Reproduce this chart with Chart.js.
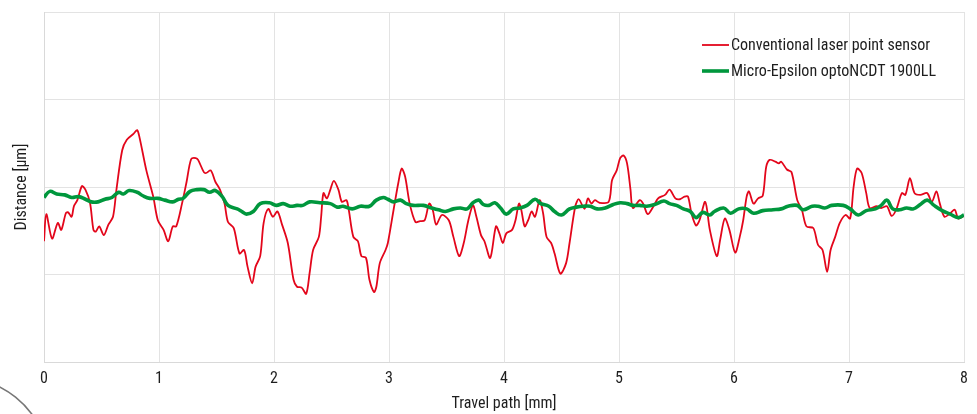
<!DOCTYPE html>
<html>
<head>
<meta charset="utf-8">
<script src="https://cdn.jsdelivr.net/npm/chart.js@4/dist/chart.umd.min.js"></script>
<style>
html,body{margin:0;padding:0;background:#fff;}
#wrap{position:relative;width:977px;height:414px;}
</style>
</head>
<body>
<div id="wrap"><canvas id="c" width="977" height="414"></canvas></div>
<script>
// Travel path [mm] and distance [µm]
const redX = [0.00,0.02,0.07,0.12,0.15,0.19,0.21,0.24,0.26,0.29,0.33,0.36,0.40,0.43,0.45,0.48,0.52,0.56,0.60,0.63,0.68,0.72,0.78,0.81,0.83,0.89,0.95,0.99,1.04,1.08,1.12,1.15,1.20,1.24,1.28,1.32,1.34,1.39,1.41,1.45,1.49,1.53,1.57,1.60,1.65,1.70,1.74,1.77,1.81,1.84,1.88,1.91,1.95,1.99,2.03,2.07,2.12,2.17,2.20,2.24,2.28,2.31,2.34,2.39,2.41,2.43,2.46,2.49,2.52,2.56,2.59,2.63,2.65,2.69,2.73,2.76,2.80,2.83,2.87,2.89,2.92,2.97,2.99,3.04,3.08,3.11,3.14,3.18,3.23,3.27,3.31,3.35,3.38,3.41,3.46,3.52,3.56,3.61,3.65,3.69,3.73,3.76,3.80,3.83,3.88,3.93,3.96,3.99,4.02,4.07,4.10,4.13,4.15,4.18,4.21,4.24,4.27,4.31,4.34,4.37,4.41,4.44,4.49,4.54,4.57,4.62,4.65,4.70,4.73,4.76,4.79,4.83,4.91,4.94,4.98,5.01,5.04,5.07,5.10,5.12,5.18,5.21,5.25,5.30,5.34,5.40,5.44,5.49,5.53,5.57,5.60,5.63,5.67,5.70,5.75,5.79,5.85,5.88,5.92,5.96,6.01,6.05,6.08,6.11,6.13,6.17,6.21,6.25,6.28,6.31,6.36,6.39,6.41,6.46,6.50,6.55,6.59,6.63,6.69,6.73,6.77,6.81,6.84,6.88,6.92,6.97,7.01,7.04,7.07,7.11,7.15,7.18,7.24,7.28,7.33,7.37,7.41,7.46,7.49,7.53,7.57,7.62,7.68,7.72,7.76,7.79,7.83,7.88,7.92,7.95,8.00];
const redY = [-6.2,-3.1,-5.9,-4.1,-4.9,-3.0,-2.9,-3.4,-2.2,-1.5,0.1,-0.3,-1.8,-4.9,-5.1,-4.5,-5.5,-4.3,-3.4,-0.3,4.2,5.4,6.1,6.5,5.7,1.9,-1.1,-3.8,-4.9,-6.2,-4.5,-4.5,-1.9,0.6,3.2,3.3,3.1,1.7,1.6,1.9,0.6,-0.3,-1.9,-4.0,-4.7,-7.6,-7.2,-9.1,-11.0,-9.1,-7.9,-4.1,-2.5,-3.4,-2.8,-4.3,-6.4,-10.6,-11.4,-11.5,-12.2,-9.8,-7.2,-5.7,-3.4,-0.7,-1.3,-0.3,0.7,-0.3,-1.7,-1.5,-2.6,-5.7,-6.2,-7.9,-8.1,-10.6,-12.0,-11.4,-8.7,-7.2,-6.4,-2.6,0.4,2.1,1.2,-1.9,-4.0,-3.9,-3.8,-1.9,-2.6,-4.3,-3.2,-3.8,-5.7,-7.9,-6.4,-3.8,-2.1,-3.4,-5.5,-6.2,-8.1,-4.5,-5.3,-6.4,-5.3,-4.9,-3.8,-1.9,-2.6,-4.5,-3.8,-2.8,-3.4,-1.5,-3.0,-5.7,-6.4,-7.6,-9.9,-8.7,-6.4,-2.2,-1.4,-2.5,-1.3,-1.9,-1.5,-1.8,-1.7,0.8,1.9,3.3,3.6,2.7,-0.3,-2.4,-1.5,-1.9,-3.1,-2.2,-1.3,-0.9,-0.3,-1.3,-1.4,-1.1,-1.1,-3.0,-4.4,-3.8,-1.7,-4.9,-7.9,-6.0,-3.6,-4.9,-7.5,-5.7,-3.8,-1.1,-0.5,-1.9,-1.3,-1.0,2.3,3.1,2.9,2.7,2.9,2.0,1.7,-1.5,-2.6,-4.5,-4.7,-6.6,-7.2,-9.7,-7.2,-5.7,-4.1,-3.2,-3.6,0.0,2.1,1.6,-0.7,-2.4,-2.2,-2.4,-2.2,-3.3,-2.6,-0.7,-0.9,1.0,-0.7,-0.9,-0.7,-1.7,-0.5,-1.9,-3.4,-3.0,-2.6,-3.6,-3.3];
const greenX = [0.00,0.05,0.11,0.18,0.24,0.30,0.36,0.41,0.47,0.53,0.59,0.65,0.69,0.74,0.81,0.86,0.92,0.99,1.05,1.12,1.17,1.21,1.27,1.33,1.39,1.44,1.49,1.55,1.60,1.68,1.72,1.76,1.82,1.88,1.96,2.02,2.08,2.14,2.20,2.25,2.31,2.40,2.49,2.55,2.60,2.68,2.75,2.83,2.89,2.95,2.99,3.04,3.10,3.15,3.21,3.30,3.37,3.43,3.49,3.56,3.62,3.68,3.73,3.78,3.82,3.87,3.92,3.97,4.02,4.08,4.14,4.20,4.27,4.32,4.39,4.44,4.50,4.57,4.63,4.69,4.75,4.81,4.88,4.95,5.01,5.07,5.12,5.18,5.24,5.31,5.39,5.44,5.50,5.56,5.62,5.67,5.73,5.79,5.83,5.91,5.97,6.04,6.11,6.17,6.25,6.34,6.41,6.47,6.55,6.60,6.68,6.73,6.79,6.85,6.95,7.01,7.08,7.15,7.23,7.28,7.33,7.38,7.44,7.50,7.56,7.62,7.68,7.74,7.81,7.88,7.95,8.00];
const greenY = [-1.2,-0.5,-0.8,-0.9,-1.2,-1.1,-1.4,-1.7,-1.7,-1.4,-1.2,-0.6,-0.8,-0.4,-0.6,-1.0,-1.3,-1.3,-1.5,-1.7,-1.4,-1.3,-0.5,-0.3,-0.3,-0.6,-0.4,-1.1,-2.1,-2.5,-2.8,-3.1,-2.8,-1.9,-1.8,-2.1,-1.9,-2.2,-2.1,-2.1,-1.7,-1.8,-1.9,-2.3,-2.2,-2.5,-2.2,-2.2,-1.5,-1.2,-1.4,-1.7,-1.5,-1.9,-2.1,-2.1,-2.4,-2.6,-2.8,-2.5,-2.4,-2.5,-1.8,-1.5,-2.0,-2.1,-1.8,-2.4,-3.1,-2.5,-2.4,-2.1,-1.4,-1.9,-2.2,-2.8,-3.2,-2.5,-2.3,-2.2,-2.2,-2.5,-2.4,-2.0,-1.8,-1.9,-2.1,-2.1,-2.2,-2.0,-1.6,-1.9,-2.1,-2.5,-2.8,-3.5,-2.9,-3.2,-2.8,-2.4,-3.0,-2.5,-2.5,-3.0,-2.7,-2.6,-2.5,-2.2,-2.1,-2.6,-2.2,-2.2,-2.4,-2.1,-2.1,-2.5,-3.2,-2.7,-2.5,-2.1,-1.5,-2.5,-2.6,-2.4,-2.5,-2.0,-1.5,-2.1,-2.7,-3.1,-3.5,-3.2];
const xTicks = [0,1,2,3,4,5,6,7,8];
const seriesNames = ['Conventional laser point sensor', 'Micro-Epsilon optoNCDT 1900LL'];

const FONT = "'Liberation Sans Narrow', 'Roboto Condensed', 'Arial Narrow', Roboto, sans-serif";
const TEXT = '#1e1e1e';
const RED = '#e3061b';
const GREEN = '#00973d';

const toPts = (xs, ys) => xs.map((x, i) => ({x: x, y: ys[i]}));

const legendAndDeco = {
  id: 'legendAndDeco',
  afterDraw(chart) {
    const ctx = chart.ctx;
    ctx.save();
    const items = chart.data.datasets;
    const ys = [45, 71];
    ctx.font = '16px ' + FONT;
    ctx.textBaseline = 'middle';
    ctx.fillStyle = TEXT;
    items.forEach((ds, i) => {
      ctx.beginPath();
      ctx.strokeStyle = ds.borderColor;
      ctx.lineWidth = ds.borderWidth;
      ctx.moveTo(702, ys[i]);
      ctx.lineTo(729, ys[i]);
      ctx.stroke();
      ctx.fillText(ds.label, 731, ys[i] + 1);
    });
    ctx.beginPath();
    ctx.strokeStyle = '#777';
    ctx.lineWidth = 1.6;
    ctx.arc(-42, 469, 92, -Math.PI * 0.42, -Math.PI * 0.15);
    ctx.stroke();
    ctx.restore();
  }
};

new Chart(document.getElementById('c'), {
  type: 'line',
  data: {
    datasets: [
      {label: seriesNames[0], data: toPts(redX, redY), borderColor: RED, borderWidth: 1.8, pointRadius: 0, tension: 0.3, fill: false, order: 2},
      {label: seriesNames[1], data: toPts(greenX, greenY), borderColor: GREEN, borderWidth: 3.6, pointRadius: 0, tension: 0.4, fill: false, order: 1}
    ]
  },
  options: {
    responsive: false,
    animation: false,
    events: [],
    layout: {padding: {top: 12, right: 13, left: 0, bottom: 0}},
    plugins: {legend: {display: false}, tooltip: {enabled: false}},
    scales: {
      x: {
        type: 'linear', min: 0, max: 8,
        afterBuildTicks(s) { s.ticks = xTicks.map(v => ({value: v})); },
        afterFit(s) { s.height = 52; },
        grid: {color: '#e3e3e3', drawTicks: false, lineWidth: 1},
        border: {color: '#d9d9d9'},
        ticks: {padding: 7, color: TEXT, font: {family: FONT, size: 16}},
        title: {display: true, text: 'Travel path [mm]', color: TEXT, font: {family: FONT, size: 16}, padding: {top: 0, bottom: 0}}
      },
      y: {
        min: -20, max: 20,
        afterFit(s) { s.width = 44; },
        grid: {color: '#e3e3e3', drawTicks: false},
        border: {color: '#d9d9d9'},
        ticks: {display: false, stepSize: 10},
        title: {display: true, text: 'Distance [μm]', color: TEXT, font: {family: FONT, size: 16}, padding: {top: 12, bottom: 0}}
      }
    }
  },
  plugins: [legendAndDeco]
});
</script>
</body>
</html>
